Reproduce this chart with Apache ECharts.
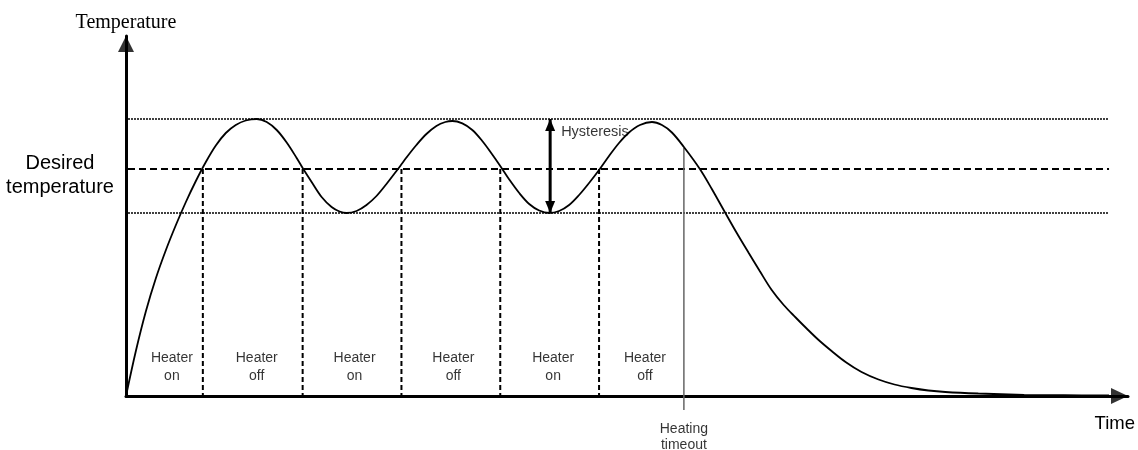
<!DOCTYPE html>
<html>
<head>
<meta charset="utf-8">
<script src="https://cdn.jsdelivr.net/npm/echarts@6/dist/echarts.min.js"></script>
<style>html,body{margin:0;padding:0;background:#fff;}#c{width:1138px;height:450px;}</style>
</head>
<body>
<div id="c"></div>
<script>
// Temperature curve (time units, temperature units)
const timeValues = [
  0, 1, 2, 3, 4, 5, 6, 7, 8, 9, 10, 11, 12, 13.1,
  14.1, 15.1, 16.1, 17.1, 17.7, 18.6, 19.6, 20.6, 21.4, 22.1,
  23.1, 24.1, 25.1, 26.1, 27.1, 27.6, 28.1, 29.1, 30.1, 31.1, 32.0, 32.7,
  33.7, 34.7, 35.7, 36.7, 37.5, 38.4, 39.4, 40.4, 41.4, 42.4,
  43.4, 44.4, 45.4, 46.4, 47.4, 48.4, 49.4, 50.4, 51.5, 52.7,
  53.7, 54.7, 55.9, 57.5, 58.7, 60.0, 61.2, 62.4, 63.5, 64.7, 65.9, 67.1, 68.2, 69.4,
  70.7, 72.1, 73.7, 75.4, 77.0, 78.7, 80.4, 82.1, 85.4, 90.0, 94.0, 98.5
];
const temperatureValues = [
  0, 4.55, 8.5, 11.8, 14.6, 17.1, 19.4, 21.5, 23.4, 25.05, 26.3, 27.1, 27.55, 27.7,
  27.4, 26.6, 25.35, 23.8, 22.8, 21.4, 19.9, 18.9, 18.45, 18.3,
  18.5, 19.1, 20.0, 21.2, 22.5, 23.17, 23.85, 25.1, 26.2, 27.0, 27.4, 27.5,
  27.26, 26.6, 25.5, 24.15, 23.0, 21.65, 20.3, 19.2, 18.55, 18.3,
  18.5, 19.1, 20.1, 21.3, 22.6, 24.0, 25.3, 26.35, 27.1, 27.4,
  27.1, 26.35, 24.9, 22.7, 20.7, 18.4, 16.3, 14.3, 12.5, 10.6, 9.1, 7.85, 6.75, 5.6,
  4.5, 3.4, 2.4, 1.65, 1.15, 0.8, 0.55, 0.4, 0.25, 0.12, 0.08, 0.05
];

// Reference levels
const upperLevel = 27.7;
const setpointLevel = 22.7;
const lowerLevel = 18.3;
const levelSpan = [0.2, 98.5];

// Heater switching times
const switchTimes = [7.7, 17.7, 27.6, 37.5, 47.4];
const timeoutTime = 55.9;
const timeoutRange = [24.8, -1.4];

// Heater state labels
const heaterLabelTimes = [4.6, 13.1, 22.9, 32.8, 42.8, 52.0];
const heaterLabelTexts = ['Heater\non', 'Heater\noff', 'Heater\non', 'Heater\noff', 'Heater\non', 'Heater\noff'];
const heaterLabelLevel = 2.9;

// Hysteresis
const hysteresisTime = 42.5;
const hysteresisLabelPos = [43.6, 26.4];

const desiredLabelValue = 22.1;

// Axis extents (arrow tips)
const timeMax = 100.4;
const tempMax = 36;

const font = 'Liberation Sans, Arial, sans-serif';
const chart = echarts.init(document.getElementById('c'), null, {renderer: 'canvas'});

const series = [];

// horizontal levels
[[upperLevel, 'dotted'], [setpointLevel, 'dashed'], [lowerLevel, 'dotted']].forEach(([lv, kind]) => {
  series.push({
    type: 'line', silent: true, symbol: 'none',
    data: [[levelSpan[0], lv], [levelSpan[1], lv]],
    lineStyle: kind === 'dotted'
      ? {color: '#000', width: 1.5, type: [2, 1]}
      : {color: '#000', width: 2, type: [7, 4]},
    z: 2
  });
});

// vertical switching lines
switchTimes.forEach(t => {
  series.push({
    type: 'line', silent: true, symbol: 'none',
    data: [[t, setpointLevel], [t, 0]],
    lineStyle: {color: '#000', width: 2, type: [5, 3]},
    z: 2
  });
});

// heating timeout line
series.push({
  type: 'line', silent: true, clip: false, symbol: 'none',
  data: [[timeoutTime, timeoutRange[0]], [timeoutTime, timeoutRange[1]]],
  lineStyle: {color: '#666', width: 1.5},
  z: 3
});
series.push({
  type: 'scatter', silent: true, clip: false, symbolSize: 0,
  data: [{name: 'Heating\ntimeout', value: [timeoutTime, timeoutRange[1]]}],
  label: {show: true, position: 'bottom', distance: 11, formatter: p => p.name,
    fontFamily: font, fontSize: 14, lineHeight: 16, color: '#000'},
  z: 7
});

// temperature curve
series.push({
  type: 'line', silent: true, symbol: 'none', smooth: 0.35,
  data: timeValues.map((t, i) => [t, temperatureValues[i]]),
  lineStyle: {color: '#000', width: 1.8},
  z: 5
});

// hysteresis arrow
series.push({
  type: 'line', silent: true,
  data: [
    {value: [hysteresisTime, upperLevel], symbol: 'triangle', symbolSize: [10, 12], symbolOffset: [0, 6]},
    {value: [hysteresisTime, lowerLevel], symbol: 'triangle', symbolSize: [10, 12], symbolRotate: 180, symbolOffset: [0, -6]}
  ],
  showSymbol: true,
  lineStyle: {color: '#000', width: 3},
  itemStyle: {color: '#000'},
  z: 6
});

// axis arrow heads
series.push({
  type: 'scatter', silent: true, clip: false,
  data: [
    {value: [0, tempMax], symbol: 'triangle', symbolSize: [16, 16], symbolOffset: [0, 8]},
    {value: [timeMax, 0], symbol: 'triangle', symbolSize: [16, 17], symbolRotate: -90, symbolOffset: [-8.5, 0]}
  ],
  itemStyle: {color: '#000'},
  z: 10
});

// heater labels + hysteresis label
series.push({
  type: 'scatter', silent: true, symbolSize: 0,
  data: heaterLabelTimes.map((t, i) => ({name: heaterLabelTexts[i], value: [t, heaterLabelLevel]})),
  label: {show: true, position: 'inside', formatter: p => p.name,
    fontFamily: font, fontSize: 14, lineHeight: 18, color: '#000'},
  z: 7
});
series.push({
  type: 'scatter', silent: true, symbolSize: 0,
  data: [{name: 'Hysteresis', value: hysteresisLabelPos}],
  label: {show: true, position: 'right', distance: 0, formatter: p => p.name,
    fontFamily: font, fontSize: 14.5, color: '#000'},
  z: 7
});

chart.setOption({
  animation: false,
  backgroundColor: '#fff',
  grid: {left: 126, top: 36, width: 1004, height: 360, containLabel: false},
  xAxis: {
    type: 'value', min: 0, max: timeMax,
    name: 'Time', nameLocation: 'end', nameGap: 7,
    nameTextStyle: {fontFamily: font, fontSize: 18.5, color: '#000', align: 'right', verticalAlign: 'top', padding: [18, 0, 0, 0]},
    axisLine: {show: true, onZero: true, lineStyle: {color: '#000', width: 3}},
    axisTick: {show: false}, axisLabel: {show: false}, splitLine: {show: false}
  },
  yAxis: {
    type: 'value', min: 0, max: tempMax,
    name: 'Temperature', nameLocation: 'end', nameGap: 3,
    nameTextStyle: {fontFamily: 'Liberation Serif, Times New Roman, serif', fontSize: 20, color: '#000', align: 'center'},
    axisLine: {show: true, onZero: true, lineStyle: {color: '#000', width: 3}},
    axisTick: {show: false},
    axisLabel: {show: true, customValues: [desiredLabelValue], formatter: () => 'Desired\ntemperature',
      fontFamily: font, fontSize: 20, lineHeight: 24, color: '#000', align: 'center', margin: 66},
    splitLine: {show: false}
  },
  series: series
});
</script>
</body>
</html>
